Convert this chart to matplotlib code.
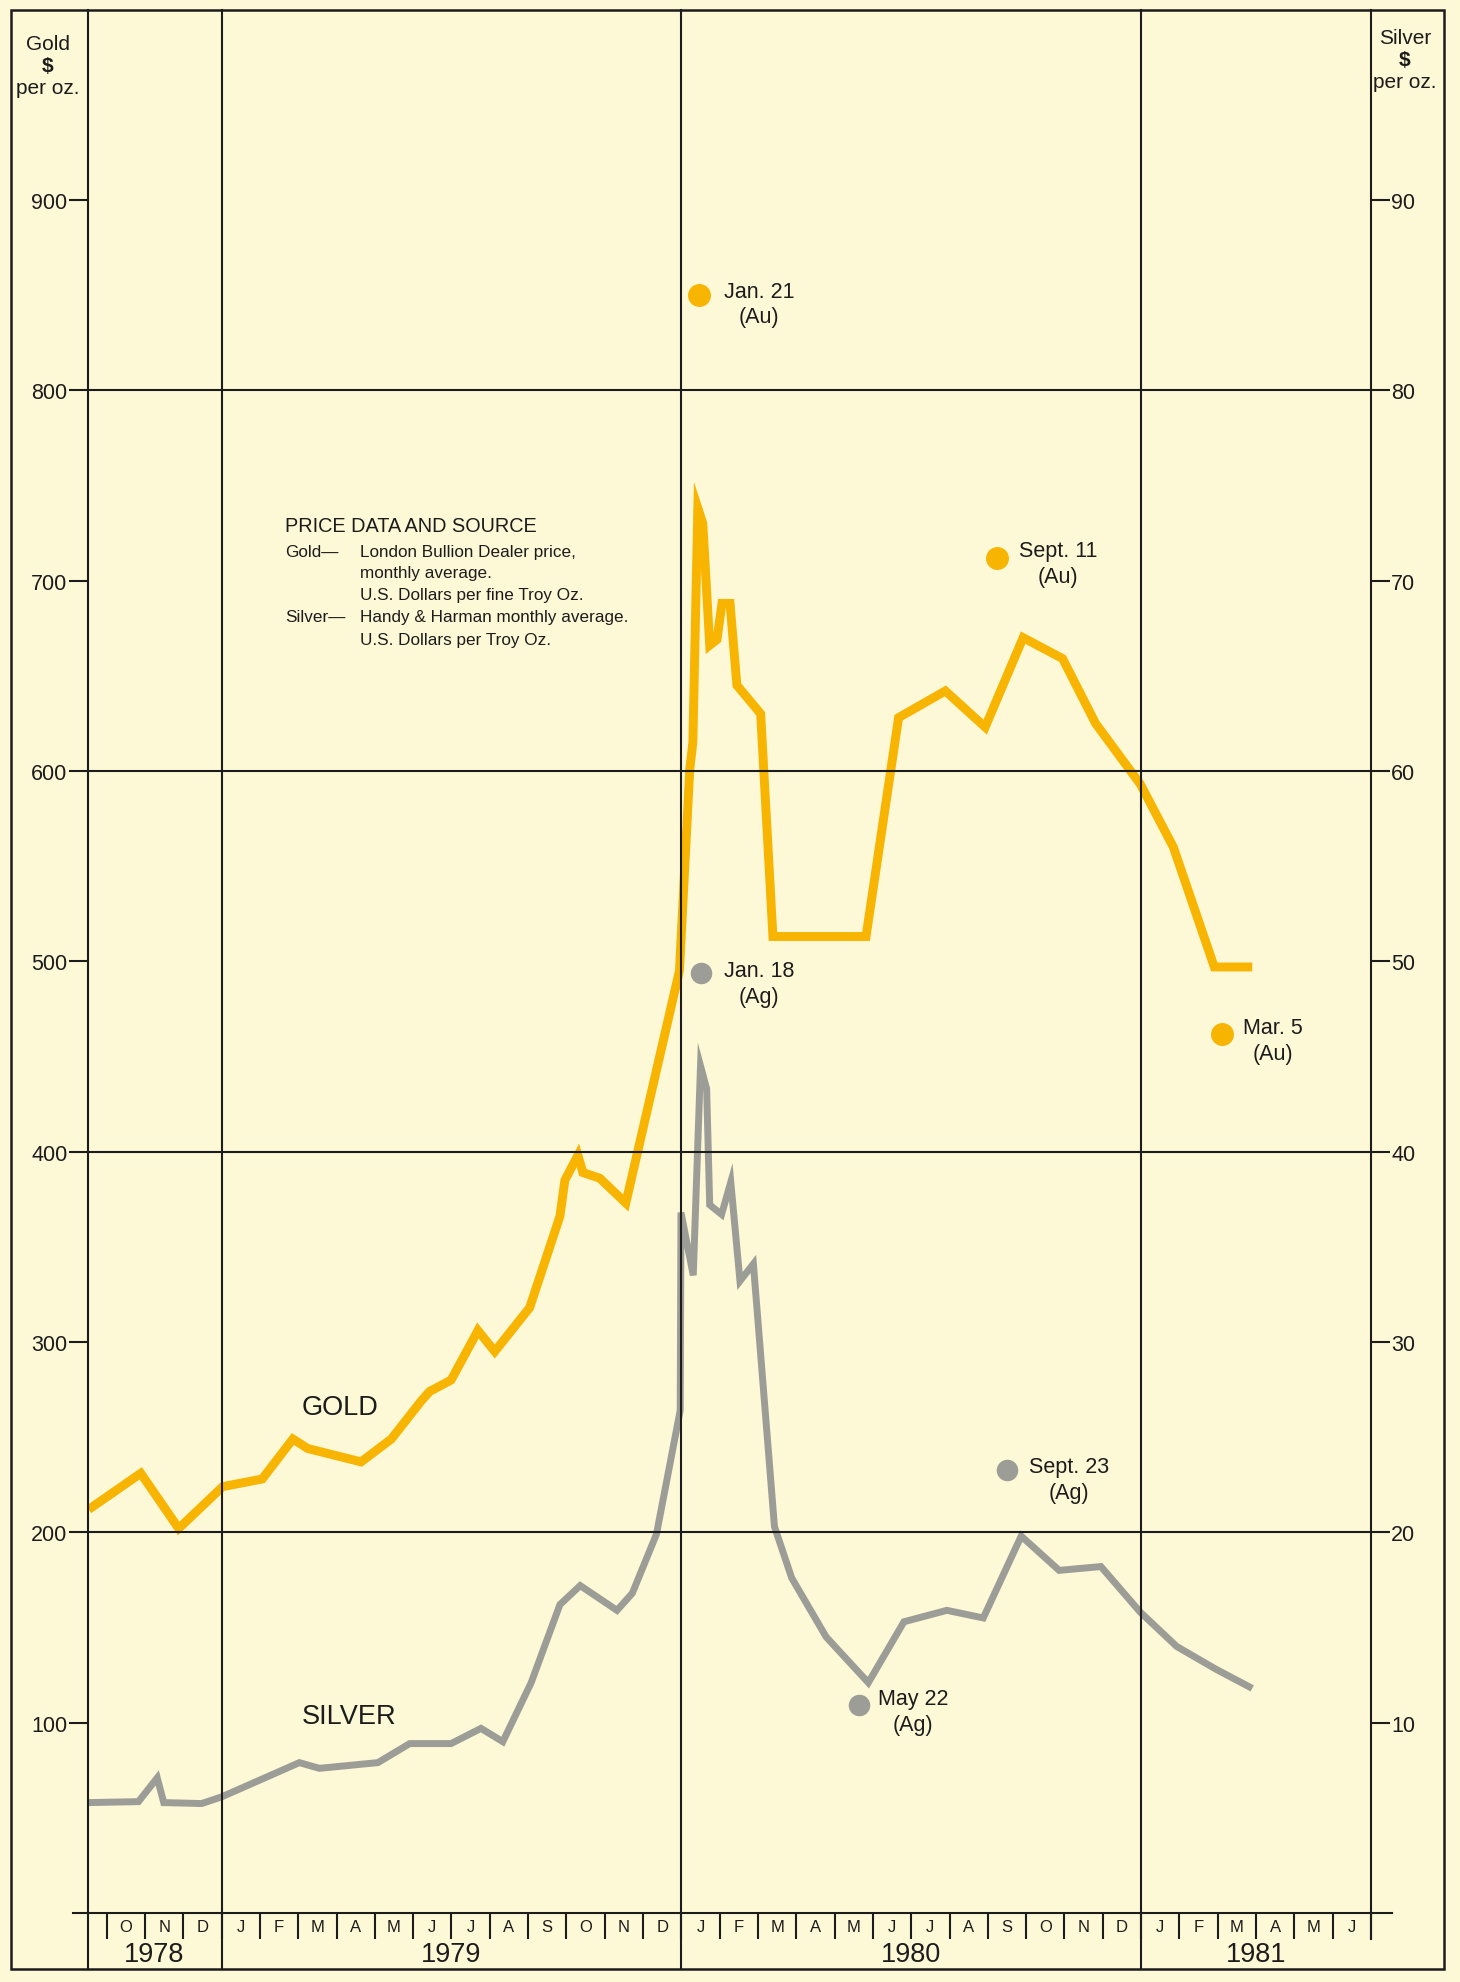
import matplotlib
matplotlib.use("Agg")
import matplotlib.pyplot as plt
import matplotlib.transforms as mtransforms
from matplotlib.patches import Rectangle

plt.rcParams['font.family'] = ['Liberation Sans', 'DejaVu Sans']

# ---------------- data (x = months since 1 Jan 1979) ----------------
gold_month = [-3.47, -2.11, -1.12, 0.03, 1.06, 1.86, 2.25, 3.64, 4.43, 5.21, 5.43,
              5.99, 6.69, 7.13, 8.04, 8.83, 8.96, 9.30, 9.43, 9.87, 10.55, 11.95,
              12.22, 12.30, 12.43, 12.56, 12.74, 12.93, 13.06, 13.27, 13.45, 14.07,
              14.39, 15.60, 16.82, 17.67, 18.89, 19.93, 20.92, 21.95, 22.81, 23.98,
              24.84, 25.91, 26.90]
gold_price = [212, 231, 202, 224, 228, 249, 244, 237, 249, 269, 274,
              280, 306, 295, 318, 366, 385, 398, 389, 386, 373, 495,
              601, 615, 738, 730, 666, 669, 688, 688, 645, 630,
              513, 513, 513, 628, 642, 623, 670, 659, 625, 593,
              560, 497, 497]

silver_month = [-3.47, -2.17, -1.68, -1.51, -0.52, 0.0, 2.03, 2.55, 4.08, 4.91, 5.99,
                6.77, 7.34, 8.08, 8.83, 9.36, 10.32, 10.72, 11.35, 11.97, 11.99,
                12.31, 12.50, 12.66, 12.74, 13.05, 13.29, 13.53, 13.88, 14.43, 14.88,
                15.78, 16.88, 17.81, 18.93, 19.88, 20.87, 21.86, 22.95, 23.98, 24.93,
                25.96, 26.90]
silver_price = [5.8, 5.85, 7.1, 5.8, 5.75, 6.1, 7.9, 7.6, 7.9, 8.9, 8.9,
                9.7, 9.0, 12.1, 16.2, 17.2, 15.9, 16.8, 19.9, 26.4, 36.8,
                33.5, 44.5, 43.3, 37.2, 36.7, 38.4, 33.2, 34.1, 20.3, 17.6,
                14.5, 12.1, 15.3, 15.9, 15.5, 19.8, 18.0, 18.2, 15.8, 14.0,
                12.8, 11.8]

gold_event_labels = ['Jan. 21\n(Au)', 'Sept. 11\n(Au)', 'Mar. 5\n(Au)']
gold_event_month = [12.47, 20.24, 26.10]
gold_event_price = [850, 712, 462]

silver_event_labels = ['Jan. 18\n(Ag)', 'May 22\n(Ag)', 'Sept. 23\n(Ag)']
silver_event_month = [12.51, 16.64, 20.51]
silver_event_price = [49.4, 10.95, 23.25]

month_letters = (['O', 'N', 'D']
                 + ['J', 'F', 'M', 'A', 'M', 'J', 'J', 'A', 'S', 'O', 'N', 'D'] * 2
                 + ['J', 'F', 'M', 'A', 'M', 'J'])
month_starts = list(range(-3, 31))
year_labels = ['1978', '1979', '1980', '1981']
year_centers = [-1.75, 6, 18, 27]
year_starts = [0, 12, 24]

gold_ticks = [100, 200, 300, 400, 500, 600, 700, 800, 900]
silver_ticks = [10, 20, 30, 40, 50, 60, 70, 80, 90]
gold_grid = [200, 400, 600, 800]

legend_title = 'PRICE DATA AND SOURCE'
legend_keys = ['Gold\u2014', 'Silver\u2014']
legend_lines = ['London Bullion Dealer price,', 'monthly average.',
                'U.S. Dollars per fine Troy Oz.',
                'Handy & Harman monthly average.', 'U.S. Dollars per Troy Oz.']

# ---------------- style ----------------
BG = '#FDF8D6'
GOLD = '#F7B400'
SILVER = '#9D9D98'
INK = '#1c1c1c'
LW = 1.5

W, H = 1460, 1983
fig = plt.figure(figsize=(W / 100, H / 100), dpi=100, facecolor=BG)

L, R, B, T = 87.5, 1371.0, 1914.0, 10.5
rect = [L / W, 1 - B / H, (R - L) / W, (B - T) / H]
ax = fig.add_axes(rect)
ax2 = ax.twinx()
ax.set_zorder(ax2.get_zorder() + 1)
ax.patch.set_visible(False)
ax2.patch.set_visible(False)

ax.set_xlim(-3.5, 30)
ax.set_ylim(0, 1000)
ax2.set_ylim(0, 100)

for a in (ax, ax2):
    for s in a.spines.values():
        s.set_visible(False)

# series
ax2.plot(silver_month, silver_price, color=SILVER, lw=5.0,
         solid_joinstyle='miter', solid_capstyle='butt', zorder=2)
ax.plot(gold_month, gold_price, color=GOLD, lw=6.4,
        solid_joinstyle='miter', solid_capstyle='butt', zorder=2)

# event dots
ax.plot(gold_event_month, gold_event_price, 'o', ms=16.5, color=GOLD,
        mec='none', zorder=3)
ax2.plot(silver_event_month, silver_event_price, 'o', ms=15.5, color=SILVER,
         mec='none', zorder=3)
gold_offsets = [(43, -6.5), (44, -4), (37, -5)]
silver_offsets = [(42, -8), (39, -5), (44.5, -6.5)]
for lab, x, y, off in zip(gold_event_labels, gold_event_month, gold_event_price, gold_offsets):
    ax.annotate(lab, (x, y), xytext=off, textcoords='offset points',
                ha='center', va='center', fontsize=15.5, color=INK,
                linespacing=1.3, zorder=6)
for lab, x, y, off in zip(silver_event_labels, silver_event_month, silver_event_price, silver_offsets):
    ax2.annotate(lab, (x, y), xytext=off, textcoords='offset points',
                 ha='center', va='center', fontsize=15.5, color=INK,
                 linespacing=1.3, zorder=6)

# grid lines
for g in gold_grid:
    ax.axhline(g, color=INK, lw=LW, zorder=4)
ext_bottom = -(1970 - B) / (B - T)
ext_tick = -(1940 - B) / (B - T)
for ys in year_starts:
    ax.axvline(ys, ymin=ext_bottom, ymax=1, color=INK, lw=LW, clip_on=False, zorder=4)
# left / right borders of the plotting area
ax.plot([0, 0], [ext_bottom, 1], transform=ax.transAxes, color=INK, lw=LW,
        clip_on=False, zorder=4)
ax.plot([1, 1], [ext_tick, 1], transform=ax.transAxes, color=INK, lw=LW,
        clip_on=False, zorder=4)
# x axis line, extended past both sides
ax.plot([(73 - L) / (R - L), (1392 - L) / (R - L)], [0, 0], transform=ax.transAxes,
        color=INK, lw=LW, clip_on=False, zorder=4)

# outer frame
fig.add_artist(Rectangle((11 / W, 1 - 1970 / H), (1444 - 11) / W, (1970 - 10.5) / H,
                         transform=fig.transFigure, fill=False, ec=INK, lw=1.8))

# y ticks
ax.set_yticks(gold_ticks)
ax.set_yticklabels([str(v) for v in gold_ticks])
ax.tick_params(axis='y', direction='out', length=13.5, width=LW, color=INK,
               labelsize=15.5, pad=1, left=True, right=False, labelcolor=INK)
ax2.set_yticks(silver_ticks)
ax2.set_yticklabels([str(v) for v in silver_ticks])
ax2.tick_params(axis='y', direction='out', length=13.5, width=LW, color=INK,
                labelsize=15.5, pad=1, left=False, right=True, labelcolor=INK)

# x ticks: month separators + month letters
ax.set_xticks(month_starts)
ax.set_xticklabels([''] * len(month_starts))
ax.set_xticks([m + 0.5 for m in month_starts[:-1]], minor=True)
ax.set_xticklabels(month_letters, minor=True)
ax.tick_params(axis='x', which='major', direction='out', length=18.5, width=LW,
               color=INK, bottom=True, top=False)
ax.tick_params(axis='x', which='minor', length=0, labelsize=12, pad=4.5,
               labelcolor=INK, bottom=True, top=False)
ax2.tick_params(axis='x', which='both', bottom=False, top=False,
                labelbottom=False)

trans = mtransforms.blended_transform_factory(ax.transData, ax.transAxes)
for lab, xc in zip(year_labels, year_centers):
    ax.text(xc, -(1955 - B) / (B - T), lab, transform=trans, ha='center',
            va='center', fontsize=19.5, color=INK)

# series names
ax.text(2.09, 266, 'GOLD', ha='left', va='center', fontsize=19.5, color=INK, zorder=6)
ax.text(2.09, 103.6, 'SILVER', ha='left', va='center', fontsize=19.5, color=INK, zorder=6)

# price data box
ax.text(1.655, 729, legend_title, ha='left', va='center', fontsize=14.3,
        color=INK, zorder=6)
ax.text(1.655, 715.3, legend_keys[0], ha='left', va='center', fontsize=12.3,
        color=INK, zorder=6)
ax.text(1.655, 681.2, legend_keys[1], ha='left', va='center', fontsize=12.3,
        color=INK, zorder=6)
for txt, yy in zip(legend_lines, [715.3, 704.3, 692.7, 681.2, 669.1]):
    ax.text(3.613, yy, txt, ha='left', va='center', fontsize=12.3, color=INK,
            zorder=6)

# axis titles
for txt, yy, wt in zip(['Gold', '$', 'per oz.'], [44, 66, 89], ['normal', 'bold', 'normal']):
    fig.text(48 / W, 1 - yy / H, txt, ha='center', va='center', fontsize=15,
             color=INK, fontweight=wt, parse_math=False)
for txt, yy, wt in zip(['Silver', '$', 'per oz.'], [38, 60, 83], ['normal', 'bold', 'normal']):
    fig.text(1405 / W, 1 - yy / H, txt, ha='center', va='center', fontsize=15,
             color=INK, fontweight=wt, parse_math=False)

fig.savefig('out.png', dpi=100, facecolor=BG)
